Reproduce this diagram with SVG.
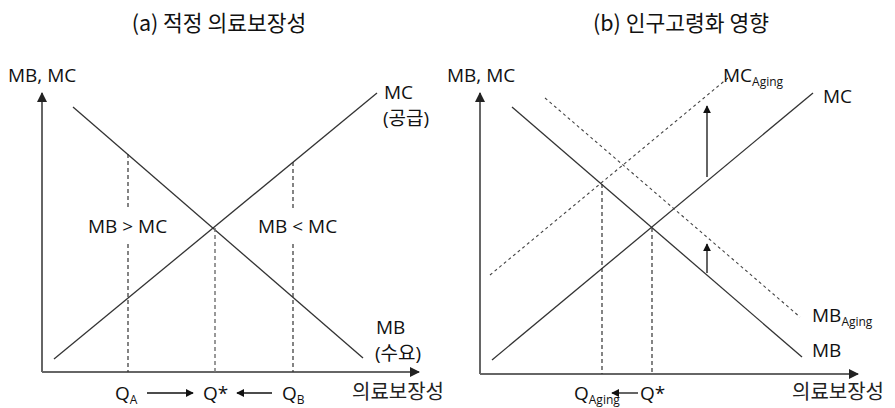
<svg xmlns="http://www.w3.org/2000/svg" width="895" height="408" viewBox="0 0 895 408">
<style>
text{font-family:"Open Sans","Noto Sans CJK KR",sans-serif;fill:#111;font-size:19px}
.kr{font-family:"Noto Sans CJK KR",sans-serif;font-size:20px;fill:#222}
.title{font-family:"Noto Sans CJK KR",sans-serif;font-size:21.5px;text-anchor:middle;fill:#111}
.sub{font-size:12px}
.ln{stroke:#333;stroke-width:1.3;fill:none}
.dl{stroke:#333;stroke-width:1.2;fill:none;stroke-dasharray:4,3}
.dg{stroke:#777;stroke-width:1.5;fill:none;stroke-dasharray:4,3}
.dt{stroke:#444;stroke-width:1.1;fill:none;stroke-dasharray:3,3}
.ax{stroke:#666;stroke-width:2;fill:none}
.ar{stroke:#111;stroke-width:1.3;fill:none}
</style>
<defs>
<marker id="ah" viewBox="0 0 10 10" refX="9" refY="5" markerWidth="8" markerHeight="8" markerUnits="userSpaceOnUse" orient="auto"><path d="M0,0L10,5L0,10z" fill="#111"/></marker>
<marker id="axh" viewBox="0 0 10 10" refX="9" refY="5" markerWidth="10" markerHeight="10" markerUnits="userSpaceOnUse" orient="auto"><path d="M0,0L10,5L0,10z" fill="#222"/></marker>
</defs>

<g id="panel-a">
<text class="title" x="219" y="31">(a) 적정 의료보장성</text>
<text x="8" y="82">MB, MC</text>
<g id="axes-a">
<line class="ax" x1="42" y1="372" x2="42" y2="93" marker-end="url(#axh)"/>
<line class="ax" x1="42" y1="372" x2="419" y2="372" marker-end="url(#axh)"/>
</g>
<g id="curves-a">
<line class="ln" x1="73" y1="107" x2="363" y2="358"/>
<line class="ln" x1="54" y1="359" x2="377" y2="93"/>
<line class="dl" x1="128" y1="154" x2="128" y2="208"/>
<line class="dl" x1="128" y1="244" x2="128" y2="372"/>
<line class="dl" x1="293" y1="162" x2="293" y2="208"/>
<line class="dl" x1="293" y1="244" x2="293" y2="372"/>
<line class="dg" x1="215" y1="228" x2="215" y2="372"/>
</g>
<g id="labels-a">
<text x="384" y="99">MC</text>
<text x="383" y="125">(<tspan font-family="Noto Sans CJK KR">공급</tspan>)</text>
<text x="376" y="334">MB</text>
<text x="375" y="360">(<tspan font-family="Noto Sans CJK KR">수요</tspan>)</text>
<text x="88" y="233">MB &gt; MC</text>
<text x="258" y="233">MB &lt; MC</text>
<text x="115" y="400">Q<tspan class="sub" dy="4">A</tspan></text>
<text x="203" y="400">Q*</text>
<text x="282" y="400">Q<tspan class="sub" dy="4">B</tspan></text>
<text class="kr" x="352" y="399">의료보장성</text>
<line class="ar" x1="147" y1="393" x2="193" y2="393" marker-end="url(#ah)"/>
<line class="ar" x1="272" y1="393" x2="237" y2="393" marker-end="url(#ah)"/>
</g>
</g>

<g id="panel-b">
<text class="title" x="681" y="31">(b) 인구고령화 영향</text>
<text x="447" y="82">MB, MC</text>
<g id="axes-b">
<line class="ax" x1="480" y1="374" x2="480" y2="93" marker-end="url(#axh)"/>
<line class="ax" x1="480" y1="374" x2="858" y2="374" marker-end="url(#axh)"/>
</g>
<g id="curves-b">
<line class="ln" x1="512" y1="107" x2="802" y2="357"/>
<line class="ln" x1="492" y1="360" x2="813" y2="93"/>
<line class="dt" x1="545" y1="98" x2="800" y2="317"/>
<line class="dt" x1="490" y1="275" x2="728" y2="78"/>
<line class="dl" x1="602" y1="184" x2="602" y2="374"/>
<line class="dl" x1="652" y1="228" x2="652" y2="374"/>
<line class="ar" x1="707" y1="177" x2="707" y2="106" marker-end="url(#ah)"/>
<line class="ar" x1="707" y1="273" x2="707" y2="244" marker-end="url(#ah)"/>
</g>
<g id="labels-b">
<text x="723" y="82">MC<tspan class="sub" dy="4">Aging</tspan></text>
<text x="823" y="103">MC</text>
<text x="812" y="322">MB<tspan class="sub" dy="4">Aging</tspan></text>
<text x="812" y="357">MB</text>
<text x="574" y="400">Q<tspan class="sub" dy="4">Aging</tspan></text>
<text x="640" y="400">Q*</text>
<line class="ar" x1="638" y1="393" x2="612" y2="393" marker-end="url(#ah)"/>
<text class="kr" x="792" y="399">의료보장성</text>
</g>
</g>
</svg>
